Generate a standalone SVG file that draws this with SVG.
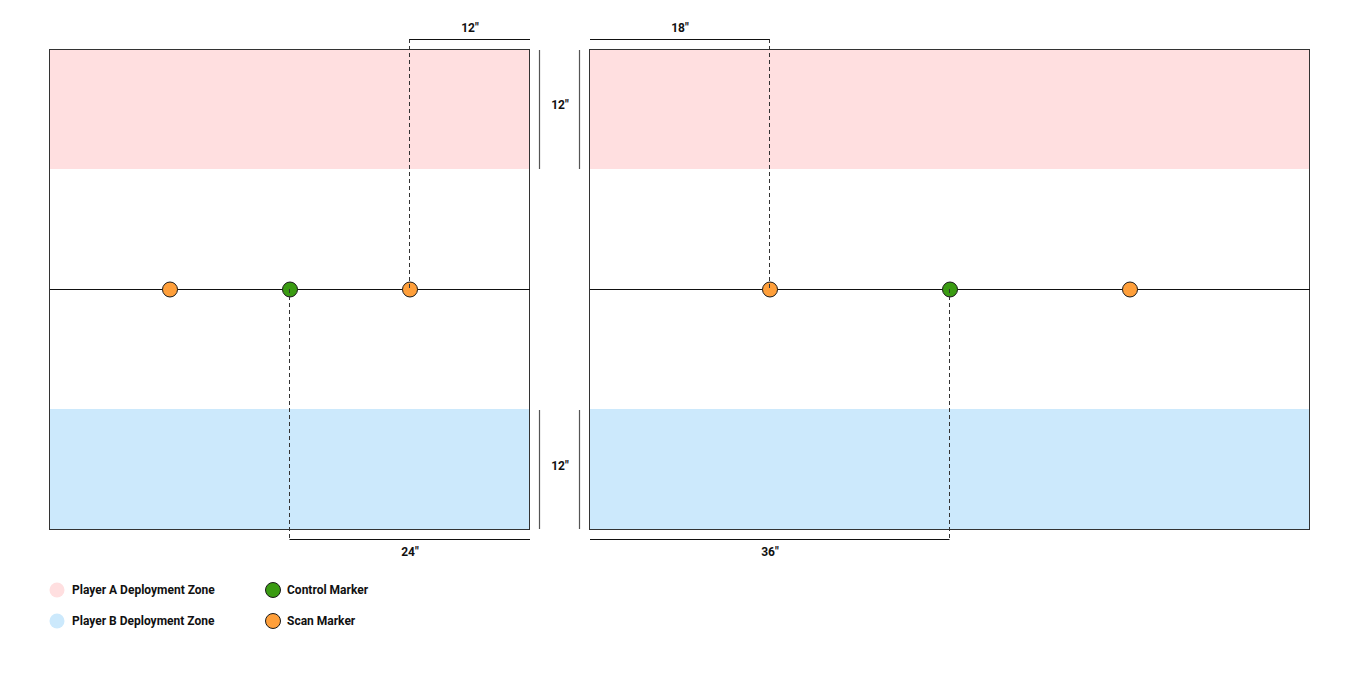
<svg xmlns="http://www.w3.org/2000/svg" width="1360" height="680" viewBox="0 0 1360 680">
<style>
.board{fill:#fff;stroke:#333;stroke-width:1}
.zoneA{fill:#FFDFE0}
.zoneB{fill:#CCE9FC}
.mid{stroke:#111;stroke-width:1}
.dim{stroke:#111;stroke-width:1;fill:none}
.vdim{stroke:#555;stroke-width:1.2;fill:none}
.dash{stroke:#333;stroke-width:1;stroke-dasharray:4 3;fill:none}
.ctrl{fill:#3A9B12;stroke:#1a1a1a;stroke-width:1}
.scan{fill:#FF9F3A;stroke:#1a1a1a;stroke-width:1}
.lbl{font-family:Roboto,"Liberation Sans",sans-serif;font-weight:bold;font-size:12px;fill:#111}
</style>
<rect width="1360" height="680" fill="#fff"/>
<g id="board-left">
<rect class="board" x="49.5" y="49.5" width="480" height="480"/>
<rect class="zoneA" x="50" y="50" width="479" height="119"/>
<rect class="zoneB" x="50" y="409" width="479" height="120"/>
<line class="mid" x1="50" y1="289.5" x2="530" y2="289.5"/>
</g>
<g id="board-right">
<rect class="board" x="589.5" y="49.5" width="720" height="480"/>
<rect class="zoneA" x="590" y="50" width="719" height="119"/>
<rect class="zoneB" x="590" y="409" width="719" height="120"/>
<line class="mid" x1="590" y1="289.5" x2="1310" y2="289.5"/>
</g>
<g id="markers-left">
<circle class="scan" cx="170" cy="289.5" r="7.5"/>
<circle class="ctrl" cx="290" cy="289.5" r="7.5"/>
<circle class="scan" cx="410" cy="289.5" r="7.5"/>
</g>
<g id="markers-right">
<circle class="scan" cx="770" cy="289.5" r="7.5"/>
<circle class="ctrl" cx="950" cy="289.5" r="7.5"/>
<circle class="scan" cx="1130" cy="289.5" r="7.5"/>
</g>
<g id="connectors">
<line class="dash" x1="409.5" y1="39" x2="409.5" y2="289"/>
<line class="dash" x1="289.5" y1="289" x2="289.5" y2="539"/>
<line class="dash" x1="769.5" y1="39" x2="769.5" y2="289"/>
<line class="dash" x1="949.5" y1="289" x2="949.5" y2="539"/>
<line class="dim" x1="409.5" y1="39.5" x2="530" y2="39.5"/>
<line class="dim" x1="590" y1="39.5" x2="769.5" y2="39.5"/>
<line class="dim" x1="289.5" y1="539.5" x2="530" y2="539.5"/>
<line class="dim" x1="590" y1="539.5" x2="949.5" y2="539.5"/>
<line class="vdim" x1="539.5" y1="50" x2="539.5" y2="169"/>
<line class="vdim" x1="579.5" y1="50" x2="579.5" y2="169"/>
<line class="vdim" x1="539.5" y1="410" x2="539.5" y2="529"/>
<line class="vdim" x1="579.5" y1="410" x2="579.5" y2="529"/>
</g>
<g id="dimension-labels">
<text class="lbl" x="470" y="32" text-anchor="middle">12″</text>
<text class="lbl" x="680" y="32" text-anchor="middle">18″</text>
<text class="lbl" x="560" y="109" text-anchor="middle">12″</text>
<text class="lbl" x="560" y="470" text-anchor="middle">12″</text>
<text class="lbl" x="410" y="556" text-anchor="middle">24″</text>
<text class="lbl" x="770" y="556" text-anchor="middle">36″</text>
</g>
<g id="legend">
<circle cx="57" cy="590" r="7.5" fill="#FFDFE0"/>
<text class="lbl" x="72" y="594">Player A Deployment Zone</text>
<circle cx="57" cy="621" r="7.5" fill="#CCE9FC"/>
<text class="lbl" x="72" y="625">Player B Deployment Zone</text>
<circle class="ctrl" cx="273" cy="590" r="7.5"/>
<text class="lbl" x="287" y="594">Control Marker</text>
<circle class="scan" cx="273" cy="621" r="7.5"/>
<text class="lbl" x="287" y="625">Scan Marker</text>
</g>
</svg>
